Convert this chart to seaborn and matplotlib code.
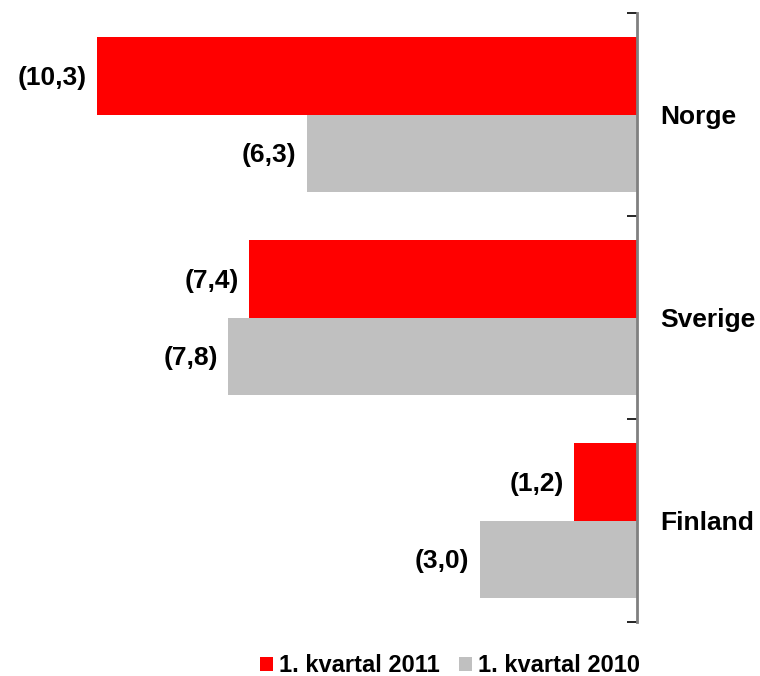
import matplotlib
matplotlib.use("Agg")
import matplotlib.pyplot as plt
import seaborn as sns
import pandas as pd
import numpy as np

countries = ["Norge", "Sverige", "Finland"]
series = ["1. kvartal 2011", "1. kvartal 2010"]
values_2011 = [-10.3, -7.4, -1.2]
values_2010 = [-6.3, -7.8, -3.0]
colors = ["#ff0000", "#c0c0c0"]

df = pd.DataFrame({
    "land": countries * 2,
    "periode": [series[0]] * 3 + [series[1]] * 3,
    "verdi": values_2011 + values_2010,
})

sns.set_style("white")
plt.rcParams["font.family"] = ["Liberation Sans", "DejaVu Sans"]
plt.rcParams["text.color"] = "black"
plt.rcParams["ytick.labelcolor"] = "black"

fig = plt.figure(figsize=(7.6, 6.76), dpi=100)
ax = fig.add_axes([0.0, 1 - 622 / 676, 637 / 760, (622 - 13) / 676])

sns.barplot(data=df, y="land", x="verdi", hue="periode", orient="h",
            palette=colors, width=0.76, ax=ax, legend=True,
            saturation=1, linewidth=0)

ax.set_xlim(-637 / 52.4, 0)
ax.set_ylim(2.5, -0.5)

# value labels left of the bars
for container in ax.containers:
    for bar in container:
        w = bar.get_width()
        y = bar.get_y() + bar.get_height() / 2
        ax.text(w - 0.2, y + 0.01, f"({abs(w):.1f})".replace(".", ","),
                ha="right", va="center", fontsize=19, fontweight="bold",
                color="black")

for s in ["top", "bottom", "left"]:
    ax.spines[s].set_visible(False)
ax.spines["right"].set_color("#808080")
ax.spines["right"].set_linewidth(2)

ax.set_xticks([])
ax.yaxis.tick_right()
ax.set_yticks([0, 1, 2])
ax.set_yticklabels(countries, fontsize=19, fontweight="bold", color="black")
ax.tick_params(axis="y", which="major", length=0, pad=17)
ax.set_yticks([-0.5, 0.5, 1.5, 2.5], minor=True)
ax.tick_params(axis="y", which="minor", direction="in", length=7,
               width=1.2, color="black", right=True, left=False)
ax.set_xlabel("")
ax.set_ylabel("")

handles, labels = ax.get_legend_handles_labels()
ax.legend_.remove()
fig.legend(handles, labels, loc="center", bbox_to_anchor=(450 / 760, 1 - 666 / 676),
           ncol=2, frameon=False, handlelength=0.55, handleheight=0.55,
           handletextpad=0.25, columnspacing=0.8,
           prop={"size": 17, "weight": "bold"})

fig.savefig("out.png", dpi=100)
